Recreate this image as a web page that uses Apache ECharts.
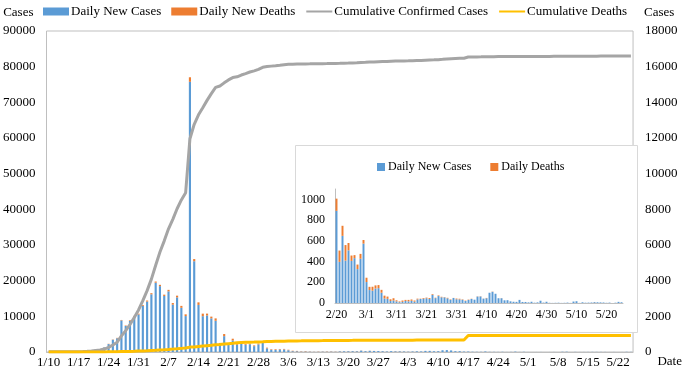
<!DOCTYPE html>
<html lang="en">
<head>
  <meta charset="UTF-8">
  <title>China COVID-19 daily and cumulative cases</title>
  <script src="https://cdn.jsdelivr.net/npm/echarts@6/dist/echarts.min.js"></script>
  <style>
    html, body { margin: 0; padding: 0; background: #fff; }
  </style>
</head>
<body>
  <div id="main" style="width: 685px;height:372px;"></div>
  <script>
    // 1/10 .. 5/25 (2020)
    var startDate = new Date(2020, 0, 10);
    var dayCount = 137;
    var dates = [];
    for (var i = 0; i < dayCount; i++) {
      var d = new Date(startDate.getTime() + i * 86400000);
      dates.push((d.getMonth() + 1) + '/' + d.getDate());
    }

    var dailyCases = [
      0, 0, 0, 0, 0, 0, 4, 17, 59, 77, 93, 149, 131, 259, 444, 688, 769, 1771, 1459, 1737, 1982, 2102,
      2590, 2829, 3235, 3887, 3694, 3143, 3399, 2656, 3062, 2478, 2015, 15152, 5090, 2641, 2009, 2048, 1886, 1749, 394, 889, 397, 648, 409, 508, 406, 433, 327, 427, 573,
      202, 125, 119, 139, 143, 99, 44, 40, 19, 24, 15, 8, 11, 20, 16, 21, 13, 34, 39, 41, 46, 39, 78, 47, 67, 55, 54, 45, 31, 48, 36,
      35, 31, 19, 30, 39, 32, 62, 63, 42, 46, 99, 108, 89, 46, 46, 26, 27, 16, 12, 11, 30, 10, 10, 6, 12, 3, 6, 22, 4, 12,
      2, 1, 2, 3, 1, 2, 4, 1, 14, 17, 1, 7, 3, 4, 5, 8, 7, 6, 5, 2, 4, 0, 3, 11, 7
    ];
    var dailyDeaths = [
      0, 0, 0, 0, 0, 1, 0, 0, 1, 0, 3, 3, 8, 8, 16, 15, 24, 26, 26, 38, 43, 46,
      45, 57, 64, 65, 73, 73, 86, 89, 97, 108, 97, 254, 121, 143, 142, 105, 98, 136, 114, 118, 109, 97, 150, 71, 52, 29, 44, 47, 35,
      42, 31, 38, 31, 30, 28, 27, 22, 17, 22, 11, 7, 13, 10, 14, 13, 11, 8, 3, 7, 6, 9, 7, 4, 6, 5, 3, 5, 4, 1, 7,
      6, 4, 4, 3, 2, 0, 2, 2, 1, 3, 0, 2, 0, 0, 1, 0, 0, 0, 0, 0, 0, 0, 0, 0, 0, 0, 0, 0, 0, 0,
      0, 0, 0, 0, 0, 0, 0, 0, 0, 0, 0, 0, 0, 0, 0, 1, 0, 0, 0, 0, 0, 0, 0, 0, 0
    ];
    var cumConfirmed = [
      41, 41, 41, 41, 41, 41, 45, 62, 121, 198, 291, 440, 571, 830, 1287, 1975, 2744, 4515, 5974, 7711, 9692, 11791,
      14380, 17205, 20438, 24324, 28018, 31161, 34546, 37198, 40171, 42638, 44653, 59804, 63851, 66492, 68500, 70548, 72436, 74185, 74576, 75465, 76288, 76936, 77150, 77658, 78064, 78497, 78824, 79251, 79824,
      80026, 80151, 80270, 80409, 80552, 80651, 80695, 80735, 80754, 80778, 80793, 80813, 80824, 80844, 80860, 80881, 80894, 80928, 80967, 81008, 81054, 81093, 81171, 81218, 81285, 81340, 81394, 81439, 81470, 81518, 81554,
      81589, 81620, 81639, 81669, 81708, 81740, 81802, 81865, 81907, 81953, 82052, 82160, 82249, 82295, 82341, 82367, 82692, 82719, 82735, 82747, 82788, 82798, 82804, 82816, 82827, 82830, 82836, 82858, 82862, 82874,
      82875, 82877, 82880, 82881, 82883, 82885, 82886, 82887, 82901, 82918, 82919, 82926, 82929, 82933, 82941, 82947, 82954, 82960, 82965, 82967, 82971, 82971, 82974, 82985, 82992
    ];
    var cumDeaths = [
      1, 1, 1, 1, 1, 2, 2, 2, 3, 3, 6, 9, 17, 25, 41, 56, 80, 106, 132, 170, 213, 259,
      304, 361, 425, 490, 563, 636, 722, 811, 908, 1016, 1113, 1367, 1380, 1523, 1665, 1770, 1868, 2004, 2118, 2236, 2345, 2442, 2592, 2663, 2715, 2744, 2788, 2835, 2870,
      2912, 2943, 2981, 3012, 3042, 3070, 3097, 3119, 3136, 3158, 3169, 3176, 3189, 3199, 3213, 3226, 3237, 3245, 3248, 3255, 3261, 3270, 3277, 3281, 3287, 3292, 3295, 3300, 3304, 3305, 3312,
      3318, 3322, 3326, 3329, 3331, 3331, 3333, 3335, 3336, 3339, 3339, 3341, 3341, 3341, 3342, 3342, 4632, 4632, 4632, 4632, 4632, 4632, 4632, 4632, 4632, 4632, 4632, 4632, 4632, 4632,
      4633, 4633, 4633, 4633, 4633, 4633, 4633, 4633, 4633, 4633, 4633, 4633, 4633, 4633, 4633, 4634, 4634, 4634, 4634, 4634, 4634, 4634, 4634, 4634, 4634
    ];

    // inset starts on 2/20
    var insetStart = 41;
    var insetDates = dates.slice(insetStart);
    var insetCases = dailyCases.slice(insetStart);
    var insetDeaths = dailyDeaths.slice(insetStart);

    var font = 'Liberation Serif';
    var blue = '#5B9BD5', orange = '#ED7D31', grey = '#A5A5A5', yellow = '#FFC000';
    var plain = function (v) { return String(v); };
    var noSymbol = { color: 'rgba(0,0,0,0)', borderWidth: 0 };

    var myChart = echarts.init(document.getElementById('main'));
    var option = {
      animation: false,
      textStyle: { fontFamily: font, color: '#000' },
      legend: [{
        left: 38, top: 0,
        itemWidth: 26, itemHeight: 8, itemGap: 10,
        textStyle: { fontFamily: font, fontSize: 13, color: '#000', padding: [0, 0, 0, -3] },
        data: [
          { name: 'Daily New Cases', icon: 'rect' },
          { name: 'Daily New Deaths', icon: 'rect' },
          { name: 'Cumulative Confirmed Cases', itemStyle: noSymbol },
          { name: 'Cumulative Deaths', itemStyle: noSymbol }
        ]
      }, {
        left: 372, top: 156, z: 11,
        itemWidth: 8, itemHeight: 8, itemGap: 16,
        textStyle: { fontFamily: font, fontSize: 12, color: '#000', padding: [0, 0, 0, -2] },
        data: [
          { name: 'Daily New Cases ', icon: 'rect' },
          { name: 'Daily Deaths', icon: 'rect' }
        ]
      }],
      graphic: [{
        type: 'rect', z: 10,
        shape: { x: 295.5, y: 145.5, width: 342, height: 187 },
        style: { fill: '#fff', stroke: '#D9D9D9', lineWidth: 1 }
      }],
      grid: [
        { left: 43, right: 44, top: 31, bottom: 20, show: true, borderColor: '#BFBFBF', borderWidth: 1 },
        { left: 335, top: 189, width: 288, height: 114 }
      ],
      xAxis: [{
        type: 'category', gridIndex: 0, data: dates,
        name: 'Date', nameLocation: 'end', nameGap: -1,
        nameTextStyle: { fontFamily: font, fontSize: 13, color: '#000', verticalAlign: 'top', padding: [3, 0, 0, 0] },
        axisLine: { lineStyle: { color: '#BFBFBF' } },
        axisTick: { show: false },
        axisLabel: { interval: 6, margin: 4, fontFamily: font, fontSize: 13, color: '#000' }
      }, {
        type: 'category', gridIndex: 1, data: insetDates, z: 11,
        axisLine: { lineStyle: { color: '#BFBFBF' } },
        axisTick: { show: false },
        axisLabel: { interval: 9, margin: 6, fontFamily: font, fontSize: 12, color: '#000' }
      }],
      yAxis: [{
        type: 'value', gridIndex: 0, min: 0, max: 90000, interval: 10000,
        name: 'Cases', nameLocation: 'end', nameGap: 12,
        nameTextStyle: { fontFamily: font, fontSize: 13, color: '#000', align: 'right', padding: [0, 13, 0, 0] },
        axisLine: { show: false }, axisTick: { show: false }, splitLine: { show: false },
        axisLabel: { margin: 11, formatter: plain, fontFamily: font, fontSize: 13, color: '#000' }
      }, {
        type: 'value', gridIndex: 0, position: 'right', min: 0, max: 18000, interval: 2000,
        name: 'Cases', nameLocation: 'end', nameGap: 12,
        nameTextStyle: { fontFamily: font, fontSize: 13, color: '#000', align: 'left', padding: [0, 0, 0, 11] },
        axisLine: { show: false }, axisTick: { show: false }, splitLine: { show: false },
        axisLabel: { margin: 12, formatter: plain, fontFamily: font, fontSize: 13, color: '#000' }
      }, {
        type: 'value', gridIndex: 1, min: 0, max: 1100, interval: 200, z: 11,
        axisLine: { show: true, lineStyle: { color: '#BFBFBF' } },
        axisTick: { show: false }, splitLine: { show: false },
        axisLabel: { margin: 10, showMaxLabel: false, formatter: plain, fontFamily: font, fontSize: 12, color: '#000' }
      }],
      series: [{
        name: 'Daily New Cases', type: 'bar', xAxisIndex: 0, yAxisIndex: 1, stack: 'daily',
        barWidth: '50%', itemStyle: { color: blue }, data: dailyCases
      }, {
        name: 'Daily New Deaths', type: 'bar', xAxisIndex: 0, yAxisIndex: 1, stack: 'daily',
        barWidth: '50%', itemStyle: { color: orange }, data: dailyDeaths
      }, {
        name: 'Cumulative Confirmed Cases', type: 'line', xAxisIndex: 0, yAxisIndex: 0,
        symbol: 'none', lineStyle: { color: grey, width: 3 }, itemStyle: { color: grey }, data: cumConfirmed
      }, {
        name: 'Cumulative Deaths', type: 'line', xAxisIndex: 0, yAxisIndex: 0,
        symbol: 'none', lineStyle: { color: yellow, width: 3 }, itemStyle: { color: yellow }, data: cumDeaths
      }, {
        name: 'Daily New Cases ', type: 'bar', xAxisIndex: 1, yAxisIndex: 2, stack: 'inset', z: 11,
        barWidth: '65%', itemStyle: { color: blue }, data: insetCases
      }, {
        name: 'Daily Deaths', type: 'bar', xAxisIndex: 1, yAxisIndex: 2, stack: 'inset', z: 11,
        barWidth: '65%', itemStyle: { color: orange }, data: insetDeaths
      }]
    };
    myChart.setOption(option);
  </script>
</body>
</html>
